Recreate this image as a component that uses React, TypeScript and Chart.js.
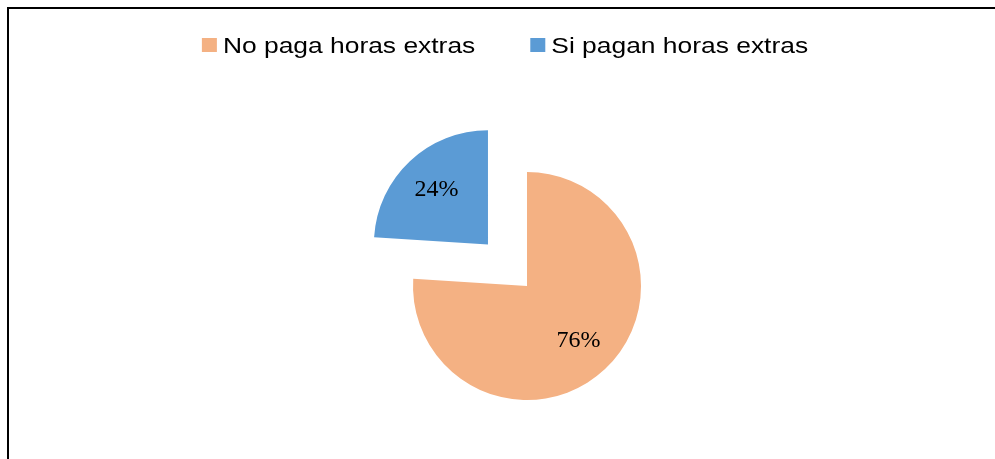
import React, { useEffect, useRef } from "react";
import { Chart, registerables } from "chart.js";

Chart.register(...registerables);

const categories = ["No paga horas extras", "Si pagan horas extras"];
const seriesValues = [76, 24];
const sliceColors = ["#F4B183", "#5B9BD5"];
const sliceOffsets = [0, 228];

const legendPlugin = {
  id: "customLegend",
  afterDraw(chart: any) {
    const ctx = chart.ctx;
    const labels: string[] = chart.data.labels;
    const colors: string[] = chart.data.datasets[0].backgroundColor;
    const fontSize = 22;
    const sx = 1.2;
    const boxW = 15;
    const boxH = 14;
    const gap = 6;
    const itemGap = 55;
    ctx.save();
    ctx.font = `${fontSize}px "Liberation Sans", Arial, sans-serif`;
    const widths = labels.map((l) => ctx.measureText(l).width * sx);
    let total = 0;
    widths.forEach((w, i) => {
      total += boxW + gap + w;
      if (i < widths.length - 1) total += itemGap;
    });
    let x = chart.width / 2 + 3 - total / 2;
    const boxTop = 29;
    const baseline = 44;
    labels.forEach((l, i) => {
      ctx.fillStyle = colors[i];
      ctx.fillRect(x, boxTop, boxW, boxH);
      x += boxW + gap;
      ctx.save();
      ctx.translate(x, baseline);
      ctx.scale(sx, 1);
      ctx.fillStyle = "#000";
      ctx.textBaseline = "alphabetic";
      ctx.textAlign = "left";
      ctx.fillText(l, 0, 0);
      ctx.restore();
      x += widths[i] + itemGap;
    });
    ctx.restore();
  },
};

const percentPlugin = {
  id: "percentLabels",
  afterDatasetsDraw(chart: any) {
    const ctx = chart.ctx;
    const meta = chart.getDatasetMeta(0);
    const data: number[] = chart.data.datasets[0].data;
    const total = data.reduce((a, b) => a + b, 0);
    ctx.save();
    ctx.font = `24px "Liberation Serif", "Times New Roman", serif`;
    ctx.fillStyle = "#000";
    ctx.textAlign = "center";
    ctx.textBaseline = "middle";
    meta.data.forEach((arc: any, i: number) => {
      const p = arc.getProps(["x", "y", "startAngle", "endAngle", "outerRadius", "circumference"], true);
      const mid = (p.startAngle + p.endAngle) / 2;
      const off = (arc.options.offset || 0) / 4;
      const fix = 1 - Math.sin(Math.min(Math.PI, p.circumference || 0));
      const t = off + off * fix;
      const d = t + p.outerRadius * 0.66;
      const lx = p.x + Math.cos(mid) * d;
      const ly = p.y + Math.sin(mid) * d;
      ctx.fillText(Math.round((data[i] / total) * 100) + "%", lx, ly);
    });
    ctx.restore();
  },
};

export default function App() {
  const ref = useRef<HTMLCanvasElement | null>(null);
  useEffect(() => {
    document.body.style.overflow = "hidden";
    if (!ref.current) return;
    const chart = new Chart(ref.current, {
      type: "pie",
      data: {
        labels: categories,
        datasets: [
          {
            data: seriesValues,
            backgroundColor: sliceColors,
            offset: sliceOffsets,
            borderWidth: 0,
          },
        ],
      },
      options: {
        responsive: false,
        animation: false,
        radius: 114,
        layout: { padding: { left: 50, right: 0, top: 104, bottom: 0 } },
        plugins: {
          legend: { display: false },
          tooltip: { enabled: false },
        },
      },
      plugins: [legendPlugin, percentPlugin],
    });
    return () => chart.destroy();
  }, []);
  return (
    <div
      style={{
        position: "absolute",
        left: 7,
        top: 7,
        width: 995,
        height: 460,
        borderLeft: "2px solid #000",
        borderTop: "2px solid #000",
        background: "#fff",
      }}
    >
      <canvas ref={ref} width={986} height={450} style={{ display: "block", width: 986, height: 450 }} />
    </div>
  );
}
